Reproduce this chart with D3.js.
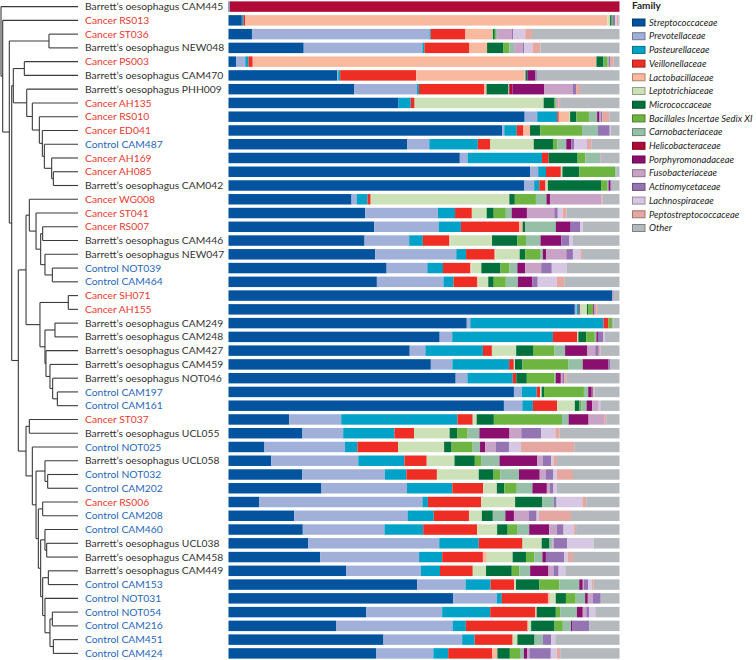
<!DOCTYPE html>
<html><head><meta charset="utf-8">
<script src="https://cdn.jsdelivr.net/npm/d3@7"></script>
<style>
html,body{margin:0;padding:0;background:#fff;}
svg{display:block;}
</style></head>
<body><svg id="chart" width="756" height="660"></svg>
<script>
const samples = ["Barrett’s oesophagus CAM445","Cancer RS013","Cancer ST036","Barrett’s oesophagus NEW048","Cancer PS003","Barrett’s oesophagus CAM470","Barrett’s oesophagus PHH009","Cancer AH135","Cancer RS010","Cancer ED041","Control CAM487","Cancer AH169","Cancer AH085","Barrett’s oesophagus CAM042","Cancer WG008","Cancer ST041","Cancer RS007","Barrett’s oesophagus CAM446","Barrett’s oesophagus NEW047","Control NOT039","Control CAM464","Cancer SH071","Cancer AH155","Barrett’s oesophagus CAM249","Barrett’s oesophagus CAM248","Barrett’s oesophagus CAM427","Barrett’s oesophagus CAM459","Barrett’s oesophagus NOT046","Control CAM197","Control CAM161","Cancer ST037","Barrett’s oesophagus UCL055","Control NOT025","Barrett’s oesophagus UCL058","Control NOT032","Control CAM202","Cancer RS006","Control CAM208","Control CAM460","Barrett’s oesophagus UCL038","Barrett’s oesophagus CAM458","Barrett’s oesophagus CAM449","Control CAM153","Control NOT031","Control NOT054","Control CAM216","Control CAM451","Control CAM424"];

const families = ["Streptococcaceae","Prevotellaceae","Pasteurellaceae","Veillonellaceae","Lactobacillaceae","Leptotrichiaceae","Micrococcaceae","Bacillales Incertae Sedix XI","Carnobacteriaceae","Helicobacteraceae","Porphyromonadaceae","Fusobacteriaceae","Actinomycetaceae","Lachnospiraceae","Peptostreptococcaceae","Other"];
const colors = ["#03539f","#a1b0d8","#00a2c7","#ee2e24","#f9b99e","#cde1b9","#00713d","#6db540","#95bfa6","#b00a36","#8a0f6f","#c8a3c5","#9574b4","#d6c7e3","#e4a7a1","#b4b9be"];

// relative abundance (%) per sample, one array per family
const streptococcaceae = [0.2,3.4,6.0,19.2,2.0,27.7,32.1,43.5,75.6,70.1,45.7,59.1,77.2,75.6,31.5,35.0,37.3,34.8,37.5,40.4,38.1,98.2,88.4,61.0,53.9,46.3,51.7,58.1,73.0,70.3,15.5,18.9,9.2,10.9,18.9,23.8,7.9,16.8,19.0,20.4,23.4,30.2,48.3,57.5,35.3,27.5,39.6,37.8];
const prevotellaceae = [0.1,0,45.4,30.3,2.3,0.3,16.1,0,3.2,0.5,5.6,2.0,2.0,2.5,1.3,18.6,16.5,11.4,20.7,10.4,17.1,0,0.5,0.9,3.2,4.0,5.5,3.0,2.0,4.7,13.3,10.4,20.6,22.3,21.1,21.9,41.7,29.0,20.9,33.5,25.3,19.1,12.4,11.1,19.4,29.8,20.1,14.7];
const pasteurellaceae = [0,0.4,0.3,0.5,0.8,0.5,0.5,3.1,5.1,3.2,12.4,19.0,2.0,1.3,2.8,4.4,5.7,3.5,2.5,4.0,2.6,0,0.6,34.1,25.7,14.7,14.5,11.6,3.8,2.7,29.7,13.1,3.2,11.8,5.5,11.6,1.4,6.7,9.9,10.1,5.9,4.9,6.4,1.3,12.3,3.4,3.2,3.8];
const veillonellaceae = [0,0.5,8.9,11.5,1.1,19.4,16.7,1.0,0.4,1.7,3.2,1.7,3.8,1.6,0.8,4.3,14.9,6.7,7.3,7.0,6.0,0,0.3,1.3,6.2,2.3,1.2,0.9,0.9,6.2,3.9,5.0,10.4,5.7,7.8,7.9,13.6,9.0,13.8,11.2,10.4,8.4,6.0,11.8,11.5,15.8,9.7,11.3];
const lactobacillaceae = [0,92.3,6.8,4.5,88.0,27.7,0.6,0,2.6,1.7,0,0,0,0,0,0,0.9,0.3,0.2,0.3,0.3,0,0,0,0,0,0,0,0,0,0,0,0,0,0,0,0,0,0,0,1.0,0,0,0.6,0.4,0,0,1.3];
const leptotrichiaceae = [0,0.7,0.2,0,0,0.2,0,33.0,0.3,0,11.1,0,0.4,0.6,35.5,3.8,0,10.7,6.2,2.5,2.6,0,1.7,0,0.3,6.2,0.3,0,0.4,4.5,1.0,9.1,11.8,7.1,10.7,3.5,8.7,3.3,5.1,4.9,6.6,3.4,0.5,1.4,0,0.9,1.2,0];
const micrococcaceae = [0,0.4,0.5,4.2,1.8,0.5,5.5,2.8,1.6,2.6,4.9,7.4,4.3,13.6,1.4,1.8,0.6,6.5,1.4,4.9,1.4,0,0.4,0,2.0,4.3,1.9,2.7,0.6,1.2,4.4,2.0,1.9,5.2,3.8,1.9,6.9,2.8,2.7,2.0,3.4,6.6,6.0,2.6,4.9,6.0,4.4,3.2];
const bacillalesXI = [0,0.3,0.3,1.5,0.9,0,0,0.3,3.2,10.7,1.1,2.0,9.2,1.5,5.4,3.1,0,2.2,3.8,2.3,3.1,0,1.2,0.9,2.2,5.5,11.8,7.1,10.2,0.4,17.4,2.6,5.4,1.6,1.7,3.2,0,0,2.4,0,2.1,1.9,5.1,2.5,1.1,2.1,0,2.6];
const carnobacteriaceae = [0,0,0.3,1.2,0.4,0,0.3,0.3,2.1,4.1,2.3,3.8,0.4,0.4,2.7,1.5,7.9,3.7,0.7,2.0,3.1,0,0,0.4,0.4,2.7,3.6,0.3,1.1,1.4,1.7,3.0,1.9,4.7,4.8,4.0,3.0,3.2,3.1,0.7,2.1,2.8,5.1,2.4,4.3,2.1,2.1,1.0];
const helicobacteraceae = [99.7,0,0,0,0,0,0.8,0,0,0,0,0,0,0,0,0,0,0,0,0,0,0,0,0,0,0,0,0,0,0,0,0,0,0,0,0,0,0,0,0,0,0,0,0,0,0,0,0];
const porphyromonadaceae = [0,0,0,0,0,2.0,8.1,0,0.6,0,1.3,0,0,0.4,0.9,3.9,3.8,5.3,0.9,2.0,3.7,0,0.3,0,0.4,5.7,6.6,1.3,0.9,1.4,5.1,7.7,1.3,9.7,5.3,3.7,0,2.2,5.1,0,0.9,4.7,0.9,0.7,1.5,0.4,0,0.9];
const fusobacteriaceae = [0,0,3.8,2.2,0,0,7.3,0.4,0.3,0,0,0.4,0,0,13.2,7.0,0,0,5.1,4.1,0,0.4,0.5,0,0,2.0,0,0.4,0,1.7,4.0,3.0,2.7,1.4,1.5,0.8,0,3.8,2.0,0.4,0,1.3,0.3,1.3,0.9,0,0,0.5];
const actinomycetaceae = [0,0.6,0.3,0.4,0.4,0.4,0.9,0,0.4,3.0,0.7,0,0,0.4,0,0.9,2.4,2.1,1.7,2.7,1.4,0,0,0,1.4,0.9,0.5,0.5,0.4,0,0,5.1,3.4,2.1,2.0,0.9,0.7,2.0,1.7,3.4,4.7,1.3,1.1,2.0,0.8,4.3,2.1,5.5];
const lachnospiraceae = [0,0.4,3.1,2.1,0,0,0,0,0,0.3,3.3,0,0,0,0,1.3,0.7,0.9,1.9,3.8,4.9,0,0,0,0.4,0,0,0,0,0.4,0,3.6,3.1,0.6,0.9,0.9,6.6,0.6,2.7,6.8,0.9,1.7,0.9,0,1.5,0,1.1,1.5];
const peptostreptococcaceae = [0,0.4,1.7,2.0,0.9,0,1.0,0.4,1.8,0,1.1,0,0,0,0.3,0.9,0,0,0.4,0,1.9,0,0.4,0,0,0.4,0,0.6,0.3,0,0.5,1.1,13.6,0.9,4.1,0,1.0,8.2,0.5,0,1.3,0,0.5,0,0,0,0,0.9];
const other = [0,0.3,22.4,20.2,1.5,21.1,10.1,15.2,2.6,2.2,7.2,4.5,0.7,2.0,4.3,13.6,9.4,11.9,9.6,13.5,14.2,1.4,5.5,1.5,3.7,4.9,2.3,13.5,6.4,4.9,3.4,15.3,11.6,16.0,11.9,16.0,8.5,12.4,11.1,6.6,11.9,13.9,6.6,4.8,6.2,7.7,16.4,15.2];

const series = [streptococcaceae,prevotellaceae,pasteurellaceae,veillonellaceae,lactobacillaceae,leptotrichiaceae,micrococcaceae,bacillalesXI,carnobacteriaceae,helicobacteraceae,porphyromonadaceae,fusobacteriaceae,actinomycetaceae,lachnospiraceae,peptostreptococcaceae,other];

// dendrogram: [mergeHeight, left, right]; leaves are sample indices
const tree = [1.0, 0, [0.978, 1, [0.892, [0.377, 2, 3], [0.861,
  [0.840, [0.697, 4, 5], [0.666, 6, [0.593, 7, [0.502, 8, [0.463, 9, [0.437, 10, [0.342, 11, [0.320, 12, 13]]]]]]]],
  [0.775,
    [0.675,
      [0.632, 14, [0.545, 15, [0.485, [0.459, 16, 17], [0.429, 18, [0.333, 19, 20]]]]],
      [0.494, [0.126, 21, 22], [0.429, [0.299, 23, 24], [0.416, 25, [0.364, 26, [0.329, 27, [0.268, 28, 29]]]]]]
    ],
    [0.675, [0.632, 30, 31], [0.593, 32,
      [0.545, [0.429, 33, [0.394, 34, 35]],
        [0.515, [0.459, 36, 37], [0.485, [0.429, 38, [0.407, 39, 40]], [0.459, [0.385, 41, 42], [0.429, 43, [0.364, [0.333, 44, 45], [0.320, 46, 47]]]]]]]]]
  ]]]]];

const svg = d3.select("#chart");

const rows = samples.map((s, i) => {
  const o = {sample: s};
  families.forEach((f, k) => o[f] = series[k][i]);
  return o;
});

const y = d3.scaleBand().domain(samples).range([0, 660]).paddingInner(0.24).paddingOuter(0.1);
const x = d3.scaleLinear().domain([0, 1]).range([228.5, 619.5]);
const color = d3.scaleOrdinal().domain(families).range(colors);

const stacked = d3.stack().keys(families).offset(d3.stackOffsetExpand)(rows);

svg.append("g").selectAll("g").data(stacked).join("g")
  .attr("fill", d => color(d.key))
  .selectAll("rect").data(d => d).join("rect")
  .attr("x", d => x(d[0]))
  .attr("width", d => Math.max(0, x(d[1]) - x(d[0])))
  .attr("y", d => y(d.data.sample))
  .attr("height", y.bandwidth());

// labels
const labelColor = s => s.startsWith("Cancer") ? "#e8392f" : s.startsWith("Control") ? "#1f68b8" : "#333";
svg.append("g").selectAll("text").data(samples).join("text")
  .attr("x", 85)
  .attr("y", d => y(d) + y.bandwidth() / 2)
  .attr("dy", "0.35em")
  .attr("fill", labelColor)
  .style("font-family", "Lato, 'Open Sans', sans-serif")
  .style("font-size", "10.3px")
  .text(d => d);

// dendrogram
const root = d3.hierarchy(tree, d => Array.isArray(d) ? d.slice(1) : null);
const hx = d3.scaleLinear().domain([0, 1]).range([78, 1]);
root.eachAfter(n => {
  if (!n.children) {
    n.py = y(samples[n.data]) + y.bandwidth() / 2;
    n.px = hx(0);
  } else {
    n.py = (n.children[0].py + n.children[n.children.length - 1].py) / 2;
    n.px = hx(n.data[0]);
  }
});
const dg = svg.append("g").attr("fill", "none").attr("stroke", "#3a3a3a").attr("stroke-width", 1.1);
root.descendants().filter(n => n.children).forEach(n => {
  const top = n.children[0].py, bot = n.children[n.children.length - 1].py;
  dg.append("line").attr("x1", n.px).attr("x2", n.px).attr("y1", top).attr("y2", bot);
  n.children.forEach(c => {
    dg.append("line").attr("x1", n.px).attr("x2", c.px).attr("y1", c.py).attr("y2", c.py);
  });
});

// legend
const lg = svg.append("g").attr("transform", "translate(632,0)");
lg.append("text").attr("x", 0).attr("y", 9).text("Family")
  .style("font-family", "Lato, 'Open Sans', sans-serif").style("font-size", "10px").style("font-weight", "bold").attr("fill", "#222");
const items = lg.selectAll("g.item").data(families).join("g").attr("class", "item")
  .attr("transform", (d, i) => `translate(0, ${19 + i * 13.7})`);
items.append("rect").attr("x", 0.5).attr("y", 0).attr("width", 12.5).attr("height", 7)
  .attr("fill", d => color(d)).attr("stroke", d => d3.color(color(d)).darker(1)).attr("stroke-width", 1);
items.append("text").attr("x", 17).attr("y", 3.5).attr("dy", "0.35em")
  .style("font-family", "Lato, 'Open Sans', sans-serif").style("font-size", "9.4px").style("font-style", "italic")
  .attr("fill", "#222").text(d => d);
</script>
</body></html>
